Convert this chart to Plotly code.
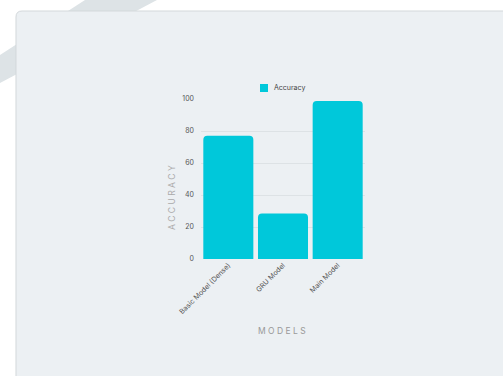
import plotly.graph_objects as go

models = ["Basic Model (Dense)", "GRU Model", "Main Model"]
accuracy = [77.0, 28.5, 98.8]
y_ticks = [0, 20, 40, 60, 80, 100]
series_name = "Accuracy"
y_title = "ACCURACY"
x_title = "MODELS"
bar_color = "#00C8DA"

W, H = 503, 376
L, R, T, B = 201, 138, 99, 117
PW, PH = W - L - R, H - T - B


def px(x, y):
    return (x - L) / PW, 1 - (y - T) / PH


def path(points, close=True):
    parts = []
    for i, p in enumerate(points):
        if p[0] == "Q":
            c = px(*p[1]); e = px(*p[2])
            parts.append(f"Q{c[0]:.5f},{c[1]:.5f} {e[0]:.5f},{e[1]:.5f}")
        else:
            a = px(*p)
            parts.append(("M" if i == 0 else "L") + f"{a[0]:.5f},{a[1]:.5f}")
    return " ".join(parts) + (" Z" if close else "")


def spaced(s):
    return " ".join(s)


stripe = path([(85, 0), (157, 0), (0, 83), (0, 55)])
card = path([(16, 400), (16, 17), ("Q", (16, 11), (22, 11)), (520, 11), (520, 400)])

sw0 = px(260, 92)
sw1 = px(268, 84)
lt = px(272, 88)
yt = px(172, 198)
xt = px(281.5, 331)

fig = go.Figure()
fig.add_trace(go.Bar(
    x=models, y=accuracy, name=series_name,
    marker=dict(color=bar_color, cornerradius=4, line=dict(width=0)),
    showlegend=False,
))

fig.update_layout(
    width=W, height=H,
    margin=dict(l=L, r=R, t=T, b=B, pad=0),
    paper_bgcolor="white",
    plot_bgcolor="rgba(0,0,0,0)",
    font=dict(family="Inter, Noto Sans, sans-serif", size=7, color="#555"),
    bargap=0.085,
    showlegend=False,
    shapes=[
        dict(type="path", path=stripe, xref="paper", yref="paper", layer="below",
             fillcolor="#dde3e6", line=dict(width=0)),
        dict(type="path", path=card, xref="paper", yref="paper", layer="below",
             fillcolor="#ecf0f3", line=dict(color="#d3d8db", width=1)),
        dict(type="rect", xref="paper", yref="paper", x0=sw0[0], y0=sw0[1], x1=sw1[0], y1=sw1[1],
             fillcolor=bar_color, line=dict(width=0)),
    ],
    annotations=[
        dict(text=series_name, xref="paper", yref="paper", x=lt[0], y=lt[1],
             xanchor="left", yanchor="middle", showarrow=False,
             font=dict(size=7, color="#444")),
        dict(text=spaced(y_title), xref="paper", yref="paper", x=yt[0], y=yt[1],
             xanchor="center", yanchor="middle", showarrow=False, textangle=-90,
             font=dict(size=8.5, color="#aaa")),
        dict(text=spaced(x_title), xref="paper", yref="paper", x=xt[0], y=xt[1],
             xanchor="center", yanchor="middle", showarrow=False,
             font=dict(size=8.5, color="#999")),
    ],
)
fig.update_yaxes(
    range=[0, 100], tickvals=y_ticks, showgrid=True, gridcolor="#dde2e5", gridwidth=1,
    zeroline=False, showline=False, ticks="", ticklabelstandoff=6,
    tickfont=dict(size=7, color="#555"),
)
fig.update_xaxes(
    tickangle=-45, showgrid=False, zeroline=False, showline=False, ticks="",
    tickfont=dict(size=7, color="#555"),
)

fig.write_html("out.html")
